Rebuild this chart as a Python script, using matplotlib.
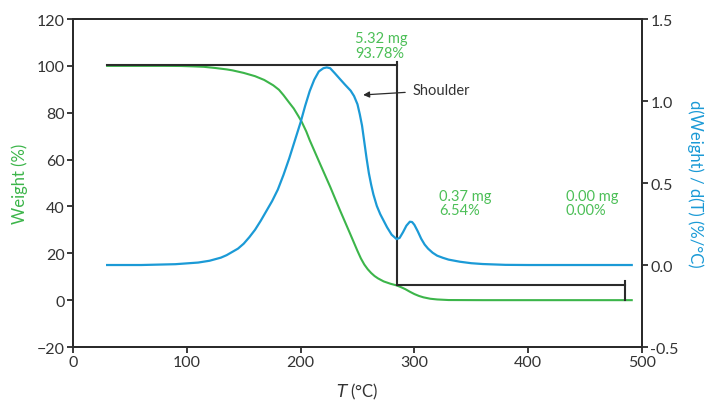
import matplotlib
matplotlib.use("Agg")
import matplotlib.pyplot as plt

plt.rcParams["font.family"] = ["Lato", "DejaVu Sans"]

# Thermogravimetric weight signal (%) versus temperature (°C)
temp_w = [30, 60, 80, 95, 105, 115, 125, 135, 140, 150, 160, 168, 176, 181,
          185, 190, 194, 198, 201, 205, 208, 217, 226, 234.6, 243.4, 250, 253,
          256, 259, 262, 265, 268, 273, 279, 284.4, 288, 292, 296, 300, 304,
          308, 314, 320, 330, 360, 420, 491]
weight = [100, 100, 100, 99.95, 99.8, 99.6, 99.1, 98.5, 98.1, 97.0, 95.6, 94.0,
          91.7, 89.8, 87.5, 84.3, 81.8, 78.6, 76.1, 72.0, 68.3, 58.3, 48.4,
          38.4, 28.5, 21.0, 17.8, 15.2, 13.2, 11.6, 10.3, 9.3, 8.0, 7.0, 6.3,
          5.6, 4.7, 3.6, 2.6, 1.8, 1.2, 0.6, 0.3, 0.05, 0.0, 0.0, 0.0]

# Derivative weight signal (%/°C)
temp_d = [30, 60, 90, 100, 110, 120, 130, 135, 140, 145, 150, 155, 160, 165,
          170, 175, 180, 185, 190, 195, 200, 204, 208, 212, 216, 220, 223, 226,
          230, 234.6, 239, 244, 247, 250, 252, 254, 256, 258, 260, 262, 264,
          267, 270, 273, 276, 280, 284.4, 287, 290, 293, 296, 298, 300, 303,
          306, 309, 312, 316, 320, 325, 330, 340, 350, 360, 380, 400, 491]
deriv = [0.0, 0.0, 0.005, 0.01, 0.015, 0.026, 0.045, 0.06, 0.08, 0.10, 0.13,
         0.17, 0.215, 0.27, 0.33, 0.39, 0.46, 0.55, 0.65, 0.76, 0.87, 0.97,
         1.06, 1.13, 1.18, 1.20, 1.205, 1.20, 1.17, 1.134, 1.10, 1.063, 1.03,
         0.98, 0.92, 0.85, 0.75, 0.65, 0.56, 0.49, 0.43, 0.36, 0.31, 0.27,
         0.23, 0.185, 0.158, 0.165, 0.20, 0.24, 0.264, 0.262, 0.245, 0.205,
         0.16, 0.125, 0.10, 0.075, 0.057, 0.044, 0.033, 0.02, 0.011, 0.006,
         0.001, 0.0, 0.0]

# Step analysis results
step_temps = [30, 284.4, 485]
step_mg = [5.32, 0.37, 0.00]
step_pct = [93.78, 6.54, 0.00]

x_ticks = [0, 100, 200, 300, 400, 500]
y_ticks = [-20, 0, 20, 40, 60, 80, 100, 120]
y2_ticks = [-0.5, 0.0, 0.5, 1.0, 1.5]

GREEN = "#3cb54a"
BLUE = "#1b9ad6"
DARK = "#2b2b2b"
TXT = "#333333"

fig = plt.figure(figsize=(7.10, 4.02), dpi=100)
ax = fig.add_axes([0.1028, 0.1343, 0.8014, 0.8159])
ax2 = ax.twinx()

ax.plot(temp_w, weight, color=GREEN, lw=1.5, zorder=3, solid_joinstyle="round")
ax2.plot(temp_d, deriv, color=BLUE, lw=1.6, zorder=3, solid_joinstyle="round")

# Step-change construction lines
level0 = step_pct[0] + step_pct[1] + step_pct[2]
level1 = step_pct[1] + step_pct[2]
level2 = step_pct[2]
ax.plot([step_temps[0], step_temps[1]], [level0, level0], color=DARK, lw=1.5, zorder=4)
ax.plot([step_temps[1], step_temps[1]], [level0 + 1.2, level1], color=DARK, lw=1.5, zorder=4)
ax.plot([step_temps[1], step_temps[2]], [level1, level1], color=DARK, lw=1.5, zorder=4)
ax.plot([step_temps[2], step_temps[2]], [level2, level1 + 1.5], color=DARK, lw=1.5, zorder=4)

lbl_kw = dict(color="#4cbf57", fontsize=10.5, ha="left", va="bottom", linespacing=1.05)
ax.text(248, 102.6, f"{step_mg[0]:.2f} mg\n{step_pct[0]:.2f}%", **lbl_kw)
ax.text(321.6, 35.4, f"{step_mg[1]:.2f} mg\n{step_pct[1]:.2f}%", **lbl_kw)
ax.text(433.2, 35.4, f"{step_mg[2]:.2f} mg\n{step_pct[2]:.2f}%", **lbl_kw)

ax.annotate("Shoulder", xy=(255, 87.6), xytext=(298, 89.6),
            color=TXT, fontsize=10.5, ha="left", va="center",
            arrowprops=dict(arrowstyle="-|>", color=DARK, lw=0.9,
                            mutation_scale=9, shrinkA=3, shrinkB=0))

ax.set_xlim(0, 500)
ax.set_ylim(-20, 120)
ax2.set_ylim(-0.5, 1.5)
ax.set_xticks(x_ticks)
ax.set_yticks(y_ticks)
ax2.set_yticks(y2_ticks)
ax2.set_yticklabels([f"{v:.1f}" for v in y2_ticks])

for a in (ax, ax2):
    for s in a.spines.values():
        s.set_color(DARK)
        s.set_linewidth(1.4)
    a.tick_params(direction="out", length=4, width=1.3, color=DARK,
                  labelcolor=TXT, labelsize=11.5, pad=2)

ax.set_ylabel("Weight (%)", color=GREEN, fontsize=12, labelpad=6)
ax2.set_ylabel("d(Weight) / d(T) (%/°C)", color=BLUE, fontsize=12,
               rotation=-90, labelpad=18)
ax.set_xlabel(r"$\it{T}$ (°C)", color=TXT, fontsize=12, labelpad=8)

fig.savefig("out.png", dpi=100)
